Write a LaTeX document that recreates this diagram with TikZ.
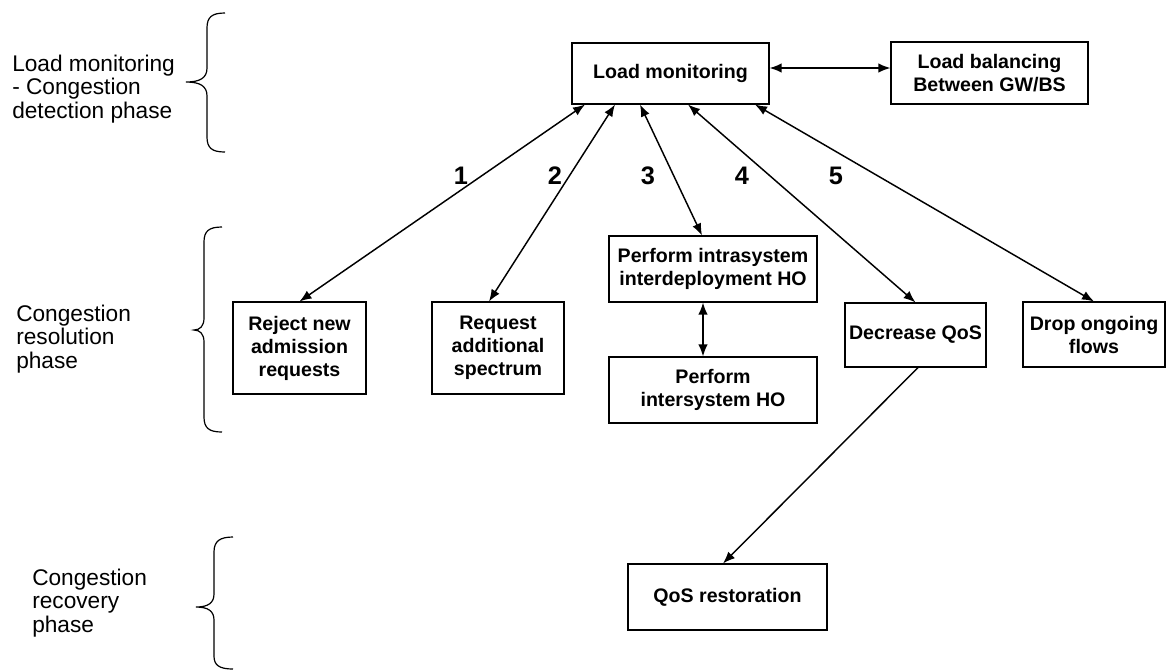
\documentclass[tikz,border=0pt]{standalone}
\usepackage{fontspec}
\setmainfont{Liberation Sans}
\usetikzlibrary{arrows.meta,calc}
\newdimen\pxu \pxu=0.75pt
\begin{document}
\begin{tikzpicture}[x=0.75pt,y=-0.75pt,
  box/.style={draw, line width=0.8pt, align=center, inner sep=0pt,
    font=\bfseries\fontsize{14.7}{17.25}\selectfont},
  tip/.tip={Latex[length=9pt,width=7pt]},
  link/.style={line width=1.1pt, tip-tip},
  oneway/.style={line width=1.1pt, -tip},
  phase/.style={anchor=west, align=left, inner sep=0pt,
    font=\fontsize{17}{17.6}\selectfont},
  num/.style={inner sep=0pt, font=\bfseries\fontsize{19}{22}\selectfont},
  brace/.style={line width=0.9pt}]

\useasboundingbox (0,0) rectangle (1169,669);

% phase labels
\node[phase] (p1) at (12,89) {Load monitoring\\- Congestion\\detection phase};
\node[phase] (p2) at (16,339) {Congestion\\resolution\\phase};
\node[phase] (p3) at (32,603) {Congestion\\recovery\\phase};

% phase braces
\draw[brace] (225,13) .. controls (212,13) and (207,17) .. (207,28) -- (207,68)
  .. controls (207,78) and (200,82) .. (186,82)
  .. controls (200,82) and (207,86) .. (207,96) -- (207,137)
  .. controls (207,148) and (212,152) .. (225,152);
\draw[brace] (222,227) .. controls (209,227) and (204,231) .. (204,242) -- (204,318)
  .. controls (204,326) and (200,330) .. (194,330)
  .. controls (200,330) and (204,334) .. (204,342) -- (204,417)
  .. controls (204,428) and (209,432) .. (222,432);
\draw[brace] (233,537) .. controls (220,537) and (214,541) .. (214,552) -- (214,594)
  .. controls (214,603) and (208,607) .. (196,607)
  .. controls (208,607) and (214,611) .. (214,620) -- (214,656)
  .. controls (214,665) and (219,669) .. (233,669);

% boxes
\node[box, minimum width=197\pxu, minimum height=61\pxu] (lm) at (670.5,73.5) {Load monitoring};
\node[box, minimum width=197\pxu, minimum height=62\pxu] (lb) at (989.5,73) {Load balancing\\Between GW/BS};
\node[box, minimum width=133\pxu, minimum height=92\pxu] (rej) at (299.5,348) {Reject new\\admission\\requests};
\node[box, minimum width=132\pxu, minimum height=92\pxu] (req) at (498,348) {Request\\additional\\spectrum};
\node[box, minimum width=208\pxu, minimum height=66\pxu] (intra) at (713,269) {Perform intrasystem\\interdeployment HO};
\node[box, minimum width=208\pxu, minimum height=66\pxu] (inter) at (713,390) {Perform\\intersystem HO};
\node[box, minimum width=141\pxu, minimum height=64\pxu] (dec) at (915.5,335) {Decrease QoS};
\node[box, minimum width=142\pxu, minimum height=65\pxu] (drop) at (1094,334.5) {Drop ongoing\\flows};
\node[box, minimum width=199\pxu, minimum height=66\pxu] (qos) at (727.5,597) {QoS restoration};

% option numbers
\node[num] (n1) at (461,176) {1};
\node[num] (n2) at (555,176) {2};
\node[num] (n3) at (648,176) {3};
\node[num] (n4) at (742,176) {4};
\node[num] (n5) at (836,176) {5};

% connectors
\draw[link] ($(lm.east)+(0,-5.5)$) -- ($(lb.west)+(0,-5)$);
\draw[link] ($(lm.south)+(-85.5,0)$) -- (rej.north);
\draw[link] ($(lm.south)+(-55.5,0)$) -- ($(req.north)+(-9,0)$);
\draw[link] ($(lm.south)+(-30.5,0)$) -- ($(intra.north)+(-11,0)$);
\draw[link] ($(lm.south)+(17.5,0)$) -- (dec.north);
\draw[link] ($(lm.south)+(84.5,0)$) -- (drop.north);
\draw[link] ($(intra.south)+(-10,0)$) -- ($(inter.north)+(-10,0)$);
\draw[oneway] ($(dec.south)+(2.5,0)$) -- ($(qos.north)+(-4.5,0)$);
\end{tikzpicture}
\end{document}
